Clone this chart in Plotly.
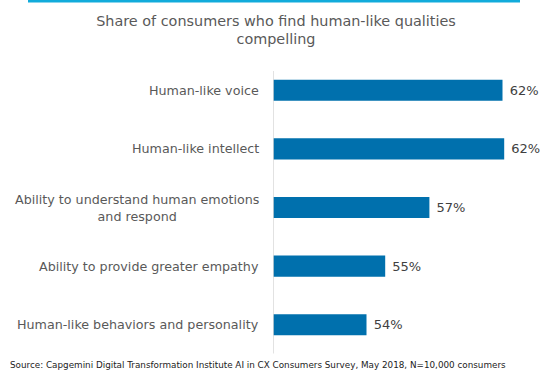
import plotly.graph_objects as go

categories = [
    "Human-like voice",
    "Human-like intellect",
    "Ability to understand human emotions<br>and respond",
    "Ability to provide greater empathy",
    "Human-like behaviors and personality",
]
values = [61.6, 61.7, 57.3, 54.7, 53.6]
value_labels = ["62%", "62%", "57%", "55%", "54%"]

title_text = "Share of consumers who find human-like qualities<br>compelling"
source_text = "Source: Capgemini Digital Transformation Institute AI in CX Consumers Survey, May 2018, N=10,000 consumers"

FONT = "DejaVu Sans"
BAR = "#0070AD"
GREY = "#595959"

fig = go.Figure()
fig.add_trace(go.Bar(
    x=values,
    y=list(range(len(categories))),
    orientation="h",
    marker=dict(color=BAR, line=dict(width=0)),
    text=[" " + t for t in value_labels],
    textposition="outside",
    cliponaxis=False,
    textfont=dict(family=FONT, size=13, color="#404040"),
    width=0.36,
    hoverinfo="skip",
))

x0 = 48.1
annotations = []
for i, c in enumerate(categories):
    annotations.append(dict(
        x=0, xref="paper", y=i, yref="y", text=c, showarrow=False,
        xanchor="right", yanchor="middle", align="center", xshift=-12,
        font=dict(family=FONT, size=12.7, color=GREY),
    ))
annotations.append(dict(
    x=(8 - 273) / 269, xref="paper", y=-0.015, yref="paper", yanchor="top", xanchor="left",
    text=source_text, showarrow=False,
    font=dict(family=FONT, size=8.8, color="#222222"),
))

fig.update_layout(
    width=552, height=376,
    margin=dict(l=273, r=10, t=61, b=22),
    paper_bgcolor="white", plot_bgcolor="white",
    showlegend=False,
    title=dict(text=title_text, x=0.5, xanchor="center", y=0.932, yanchor="top",
               font=dict(family=FONT, size=14.4, color=GREY)),
    xaxis=dict(range=[x0, x0 + 269 / 17], visible=False, fixedrange=True),
    yaxis=dict(range=[4.5, -0.5], visible=False, fixedrange=True),
    annotations=annotations,
    shapes=[
        dict(type="line", xref="x", yref="y", x0=x0, x1=x0, y0=-0.33, y1=4.49,
             line=dict(color="#D9D9D9", width=1.5), layer="above"),
        dict(type="rect", xref="paper", yref="paper",
             x0=(28 - 273) / 269, x1=(520 - 273) / 269,
             y0=1 + 58.5 / 293, y1=1 + 61 / 293,
             line=dict(width=0), fillcolor="#12ABDB"),
    ],
)

fig.write_html("out.html", config={"displayModeBar": False},
               post_script="document.body.style.margin='0';document.body.style.padding='0';")
